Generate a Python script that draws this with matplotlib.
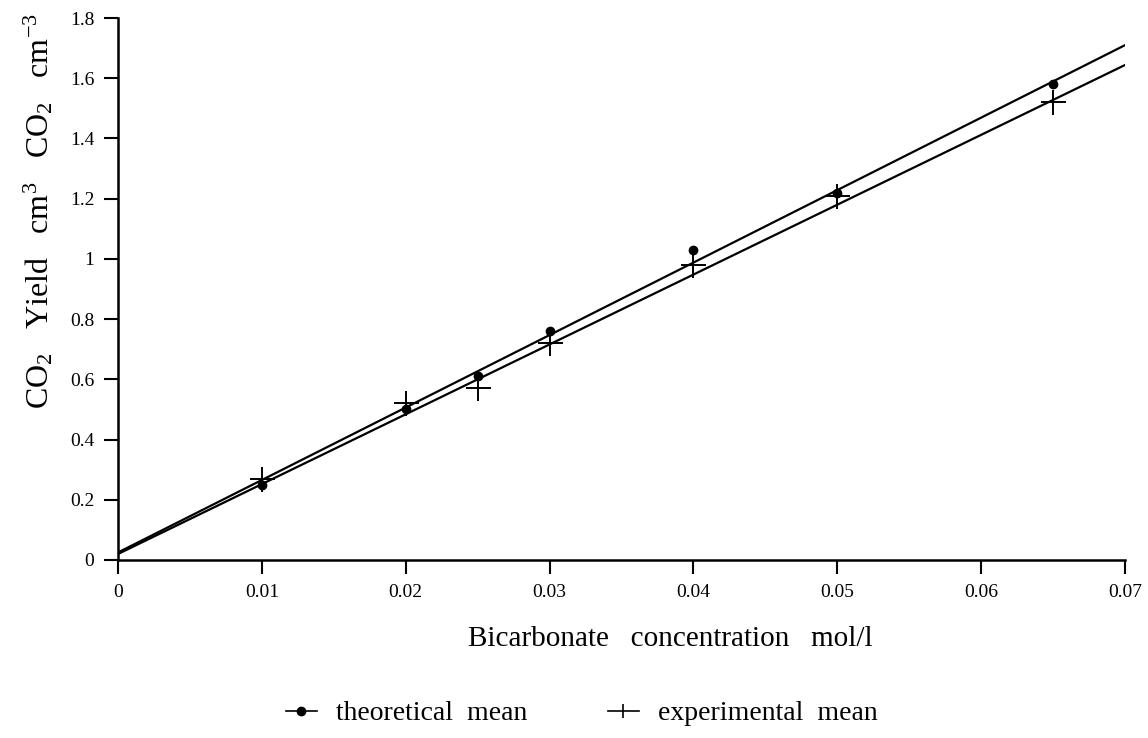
import matplotlib
matplotlib.use("Agg")
import matplotlib.pyplot as plt
import numpy as np
from matplotlib.lines import Line2D

# Data
conc = [0.01, 0.02, 0.025, 0.03, 0.04, 0.05, 0.065]
theoretical = [0.25, 0.50, 0.61, 0.76, 1.03, 1.22, 1.58]
experimental = [0.27, 0.52, 0.57, 0.72, 0.98, 1.21, 1.52]

# fitted straight lines (intercept, slope)
theo_fit = [0.025, 24.07]
exp_fit = [0.020, 23.20]
fit_x = [0.0, 0.07]

xticks = [0, 0.01, 0.02, 0.03, 0.04, 0.05, 0.06, 0.07]
xticklabels = ["0", "0.01", "0.02", "0.03", "0.04", "0.05", "0.06", "0.07"]
yticks = [0, 0.2, 0.4, 0.6, 0.8, 1.0, 1.2, 1.4, 1.6, 1.8]
yticklabels = ["0", "0.2", "0.4", "0.6", "0.8", "1", "1.2", "1.4", "1.6", "1.8"]

plt.rcParams['font.family'] = ['Liberation Serif', 'DejaVu Serif']
plt.rcParams['mathtext.fontset'] = 'custom'
plt.rcParams['mathtext.rm'] = 'Liberation Serif'
plt.rcParams['mathtext.it'] = 'Liberation Serif:italic'

fig = plt.figure(figsize=(11.48, 7.38), dpi=100)
ax = fig.add_axes([0.1028, 0.2412, 0.8772, 0.7344])

fx = np.array(fit_x)
ax.plot(fx, theo_fit[0] + theo_fit[1] * fx, color='black', lw=1.6)
ax.plot(fx, exp_fit[0] + exp_fit[1] * fx, color='black', lw=1.6)
ax.plot(conc, theoretical, linestyle='none', marker='o', ms=6, color='black')
ax.plot(conc, experimental, linestyle='none', marker='+', ms=18, mew=1.4, color='black')

ax.set_xlim(0, 0.07)
ax.set_ylim(0, 1.8)
ax.set_xticks(xticks)
ax.set_xticklabels(xticklabels)
ax.set_yticks(yticks)
ax.set_yticklabels(yticklabels)
for s in ['top', 'right']:
    ax.spines[s].set_visible(False)
for s in ['left', 'bottom']:
    ax.spines[s].set_linewidth(1.8)
ax.tick_params(axis='both', direction='out', length=10, width=1.5, labelsize=14, pad=7)

ax.set_xlabel("Bicarbonate   concentration   mol/l", fontsize=21)
ax.xaxis.set_label_coords(0.548, -0.122)
ax.set_ylabel(r"CO$_2$   Yield   cm$^3$   CO$_2$   cm$^{-3}$", fontsize=23)
ax.yaxis.set_label_coords(-0.062, 0.644)

handles = [
    Line2D([0], [0], color='black', lw=1.2, marker='o', ms=6),
    Line2D([0], [0], color='black', lw=1.2, marker='|', ms=10, mew=1.2),
]
fig.legend(handles, ["theoretical  mean", "experimental  mean"], loc='center',
           bbox_to_anchor=(0.507, 0.033), ncol=2, frameon=False, fontsize=20,
           handlelength=1.1, handletextpad=0.7, columnspacing=2.9)

fig.savefig("out.png", dpi=100)
